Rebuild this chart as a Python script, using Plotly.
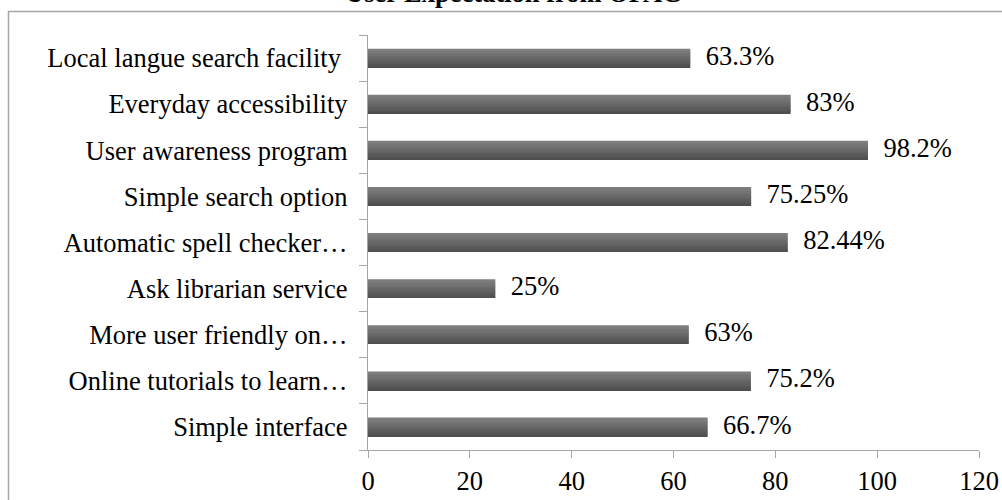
import plotly.graph_objects as go

# Data (listed bottom to top as drawn on the category axis)
categories = [
    "Simple interface",
    "Online tutorials to learn…",
    "More user friendly on…",
    "Ask librarian service",
    "Automatic spell checker…",
    "Simple search option",
    "User awareness program",
    "Everyday accessibility",
    "Local langue search facility\u00a0",
]
values = [66.7, 75.2, 63, 25, 82.44, 75.25, 98.2, 83, 63.3]
value_labels = ["66.7%", "75.2%", "63%", "25%", "82.44%", "75.25%", "98.2%", "83%", "63.3%"]
x_ticks = [0, 20, 40, 60, 80, 100, 120]
title_text = "User Expectation from OPAC"

FONT = "Liberation Serif, Times New Roman, serif"
AXIS_GRAY = "#a6a6a6"
FS = 26.5

fig = go.Figure()

# Simulate the vertical gradient of the bars with thin overlaid stripes
n_stripes = 11
bar_w = 0.40
top_rgb = (0x7e, 0x7e, 0x7e)
bot_rgb = (0x4e, 0x4e, 0x4e)
for i in range(n_stripes):
    t = i / (n_stripes - 1)  # 0 = bottom, 1 = top
    c = tuple(int(round(b + (tp - b) * t)) for b, tp in zip(bot_rgb, top_rgb))
    fig.add_trace(go.Bar(
        x=values, y=categories, orientation="h",
        width=bar_w / n_stripes + 0.004,
        offset=-bar_w / 2 + i * bar_w / n_stripes,
        marker=dict(color="rgb(%d,%d,%d)" % c, line=dict(width=0)),
        showlegend=False, hoverinfo="skip",
    ))

# Data labels
fig.add_trace(go.Scatter(
    x=values, y=categories, mode="text",
    text=["\u00a0\u00a0\u200a" + s for s in value_labels],
    textposition="middle right",
    textfont=dict(family=FONT, size=FS, color="#000000"),
    cliponaxis=False, showlegend=False, hoverinfo="skip",
))

L, R, T, B = 368, 23, 35, 50
W, H = 1002, 500
pw, ph = W - L - R, H - T - B

def px_x(x):
    return (x - L) / pw

def px_y(y):
    return (H - B - y) / ph

fig.update_layout(
    width=W, height=H,
    margin=dict(l=L, r=R, t=T, b=B, pad=0),
    paper_bgcolor="white", plot_bgcolor="white",
    barmode="overlay",
    font=dict(family=FONT, size=FS, color="#000000"),
    xaxis=dict(
        range=[0, 120], tickvals=x_ticks, ticktext=[str(v) for v in x_ticks],
        showgrid=False, zeroline=False, automargin=False,
        showline=True, linecolor=AXIS_GRAY, linewidth=1.3,
        ticks="outside", ticklen=7, tickcolor=AXIS_GRAY, tickwidth=1.3,
        ticklabelstandoff=0,
        tickfont=dict(family=FONT, size=FS, color="#000000"),
    ),
    yaxis=dict(
        type="category", categoryorder="array", categoryarray=categories,
        range=[-0.5, len(categories) - 0.5],
        showgrid=False, zeroline=False, automargin=False,
        showline=True, linecolor=AXIS_GRAY, linewidth=1.3,
        ticks="outside", tickson="boundaries", ticklen=8,
        tickcolor=AXIS_GRAY, tickwidth=1.3,
        ticklabelstandoff=14,
        tickfont=dict(family=FONT, size=FS, color="#000000"),
    ),
    shapes=[dict(
        type="rect", xref="paper", yref="paper",
        x0=px_x(8.5), x1=px_x(1004), y0=px_y(506), y1=px_y(11.5),
        line=dict(color=AXIS_GRAY, width=1.5), fillcolor="rgba(0,0,0,0)",
        layer="below",
    )],
    annotations=[dict(
        text="<b>" + title_text + "</b>", xref="paper", yref="paper",
        x=px_x(513), y=px_y(-7), xanchor="center", yanchor="middle",
        showarrow=False, font=dict(family=FONT, size=FS, color="#000000"),
    )],
)

fig.write_html(
    "out.html",
    config={"displayModeBar": False},
    post_script="document.body.style.margin='0';document.body.style.overflow='hidden';",
)
